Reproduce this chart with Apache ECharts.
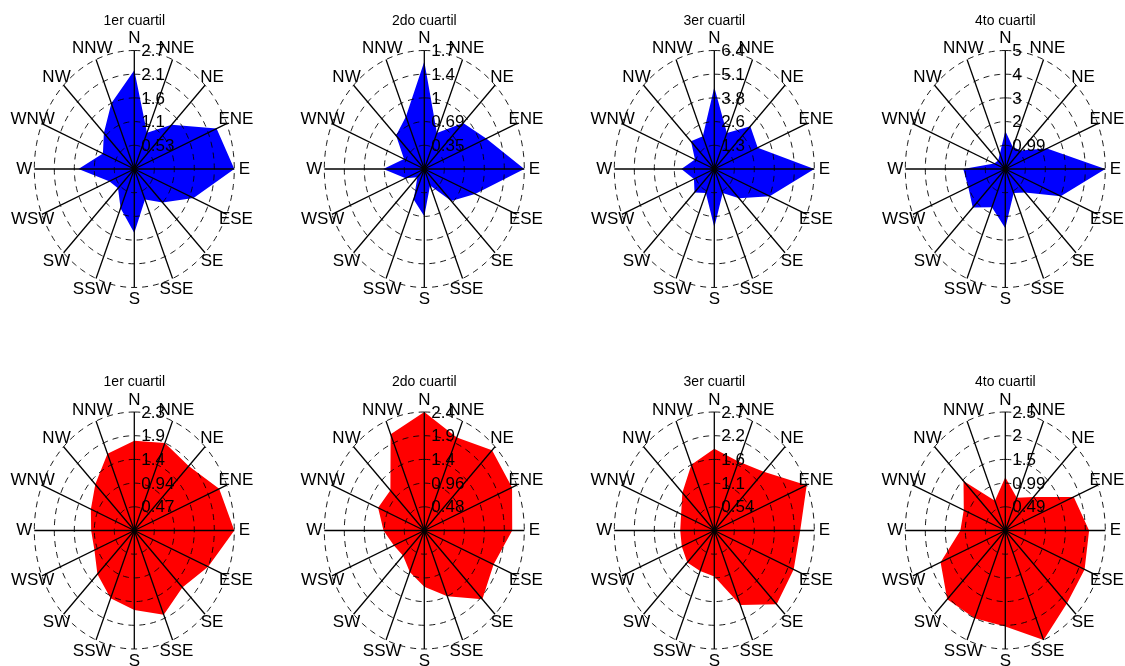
<!DOCTYPE html>
<html><head><meta charset="utf-8">
<script src="https://cdn.jsdelivr.net/npm/echarts@6.0.0/dist/echarts.min.js"></script>
<style>html,body{margin:0;padding:0;background:#fff}#c{width:1125px;height:666px}</style>
</head><body><div id="c"></div>
<script>
// ---- data ----
const directions = ['N','NNE','NE','ENE','E','ESE','SE','SSE','S','SSW','SW','WSW','W','WNW','NW','NNW'];
const titles = ['1er cuartil','2do cuartil','3er cuartil','4to cuartil'];

// top row (blue)
const topQ1 = [2.21,0.88,1.40,2.36,2.65,1.70,1.06,0.74,1.43,0.95,0.61,0.72,1.48,0.90,1.14,1.59];
const topQ2 = [1.57,0.57,0.95,1.16,1.73,0.95,0.66,0.26,0.69,0.48,0.17,0.35,0.71,0.38,0.69,0.83];
const topQ3 = [4.42,2.11,3.26,3.01,6.40,3.84,2.24,1.41,3.14,1.41,1.79,1.41,2.11,1.34,2.11,1.92];
const topQ4 = [1.59,0.99,1.09,2.24,4.97,2.98,1.39,1.09,2.49,1.74,2.29,1.99,2.09,0.60,0.50,0.70];
const topMax = [2.65,1.73,6.40,4.97];
const topTicks1 = ['0.53','1.1','1.6','2.1','2.7'];
const topTicks2 = ['0.35','0.69','1','1.4','1.7'];
const topTicks3 = ['1.3','2.6','3.8','5.1','6.4'];
const topTicks4 = ['0.99','2','3','4','5'];

// bottom row (red)
const botQ1 = [1.77,1.87,1.80,2.15,2.34,1.87,1.59,1.80,1.57,1.45,1.22,1.01,1.01,1.10,1.29,1.64];
const botQ2 = [2.40,2.04,2.30,2.28,2.11,1.80,1.97,1.44,1.14,0.91,0.72,0.79,0.98,1.20,1.15,2.11];
const botQ3 = [1.86,1.70,1.89,2.70,2.32,2.32,2.38,1.84,1.05,1.00,1.03,0.95,0.92,0.97,1.22,1.62];
const botQ4 = [1.11,0.74,0.99,1.83,2.07,2.12,2.15,2.47,2.00,1.98,2.03,1.73,1.11,1.11,1.46,0.67];
const botMax = [2.34,2.40,2.70,2.47];
const botTicks1 = ['0.47','0.94','1.4','1.9','2.3'];
const botTicks2 = ['0.48','0.96','1.4','1.9','2.4'];
const botTicks3 = ['0.54','1.1','1.6','2.2','2.7'];
const botTicks4 = ['0.49','0.99','1.5','2','2.5'];

// ---- layout / style ----
const colX = [134.3, 424.3, 714.3, 1005.3];
const rowY = [169, 530.5];
const RX = 100, RY = 118.5;
const FONT = '"Liberation Sans", Arial, sans-serif';

const panels = [
  {title: titles[0], values: topQ1, max: topMax[0], ticks: topTicks1, color: '#0000FF'},
  {title: titles[1], values: topQ2, max: topMax[1], ticks: topTicks2, color: '#0000FF'},
  {title: titles[2], values: topQ3, max: topMax[2], ticks: topTicks3, color: '#0000FF'},
  {title: titles[3], values: topQ4, max: topMax[3], ticks: topTicks4, color: '#0000FF'},
  {title: titles[0], values: botQ1, max: botMax[0], ticks: botTicks1, color: '#FF0000'},
  {title: titles[1], values: botQ2, max: botMax[1], ticks: botTicks2, color: '#FF0000'},
  {title: titles[2], values: botQ3, max: botMax[2], ticks: botTicks3, color: '#FF0000'},
  {title: titles[3], values: botQ4, max: botMax[3], ticks: botTicks4, color: '#FF0000'}
];

const grids = [], xAxes = [], yAxes = [], series = [];
const ang = k => k * 2 * Math.PI / directions.length;

panels.forEach((p, i) => {
  const cx = colX[i % 4], cy = rowY[Math.floor(i / 4)];
  grids.push({left: cx - RX, top: cy - RY, width: 2 * RX, height: 2 * RY, containLabel: false, show: false});
  xAxes.push({gridIndex: i, type: 'value', min: -p.max, max: p.max, show: false});
  yAxes.push({gridIndex: i, type: 'value', min: -p.max, max: p.max, show: false});

  // filled rose polygon
  series.push({
    type: 'custom', xAxisIndex: i, yAxisIndex: i, z: 1, silent: true, clip: false,
    dimensions: ['dir', 'val'],
    encode: {x: 'dir', y: 'val'},
    data: p.values.map((v, k) => [k, v]),
    renderItem: (params, api) => {
      if (params.dataIndexInside !== 0) return null;
      const n = params.dataInsideLength, pts = [];
      for (let k = 0; k < n; k++) {
        const a = ang(api.value(0, k)), r = api.value(1, k);
        pts.push(api.coord([r * Math.sin(a), r * Math.cos(a)]));
      }
      return {type: 'polygon', shape: {points: pts}, style: {fill: p.color, stroke: null}};
    }
  });

  // frame: rings, spokes, labels
  series.push({
    type: 'custom', xAxisIndex: i, yAxisIndex: i, z: 2, silent: true, clip: false,
    data: [[0, 0]],
    renderItem: (params, api) => {
      const children = [];
      const c = api.coord([0, 0]);
      const nr = p.ticks.length;
      // dashed rings
      for (let k = 1; k <= nr; k++) {
        const r = p.max * k / nr, pts = [];
        for (let s = 0; s < 180; s++) {
          const a = s * 2 * Math.PI / 180;
          pts.push(api.coord([r * Math.sin(a), r * Math.cos(a)]));
        }
        children.push({type: 'polygon', shape: {points: pts},
          style: {fill: null, stroke: '#000', lineWidth: 0.9, lineDash: [6, 5]}});
      }
      // spokes
      directions.forEach((d, k) => {
        const a = ang(k);
        const e = api.coord([p.max * Math.sin(a), p.max * Math.cos(a)]);
        children.push({type: 'line', shape: {x1: c[0], y1: c[1], x2: e[0], y2: e[1]},
          style: {stroke: '#000', lineWidth: 1.3}});
      });
      children.push({type: 'circle', shape: {cx: c[0], cy: c[1], r: 2.5}, style: {fill: '#000'}});
      // radial tick labels
      p.ticks.forEach((t, k) => {
        const pt = api.coord([0, p.max * (k + 1) / nr]);
        children.push({type: 'text', x: pt[0] + 7, y: pt[1] + 1,
          style: {text: t, font: '17px ' + FONT, fill: '#000', align: 'left', verticalAlign: 'middle'}});
      });
      // direction labels
      directions.forEach((d, k) => {
        const a = ang(k);
        const pt = api.coord([1.1 * p.max * Math.sin(a), 1.1 * p.max * Math.cos(a)]);
        children.push({type: 'text', x: pt[0], y: pt[1],
          style: {text: d, font: '17px ' + FONT, fill: '#000', align: 'center', verticalAlign: 'middle'}});
      });
      // title
      children.push({type: 'text', x: c[0], y: c[1] - 148,
        style: {text: p.title, font: '14px ' + FONT, fill: '#000', align: 'center', verticalAlign: 'middle'}});
      return {type: 'group', children: children};
    }
  });
});

const chart = echarts.init(document.getElementById('c'), null, {renderer: 'canvas'});
chart.setOption({
  animation: false,
  backgroundColor: '#fff',
  grid: grids, xAxis: xAxes, yAxis: yAxes, series: series
});
</script></body></html>
